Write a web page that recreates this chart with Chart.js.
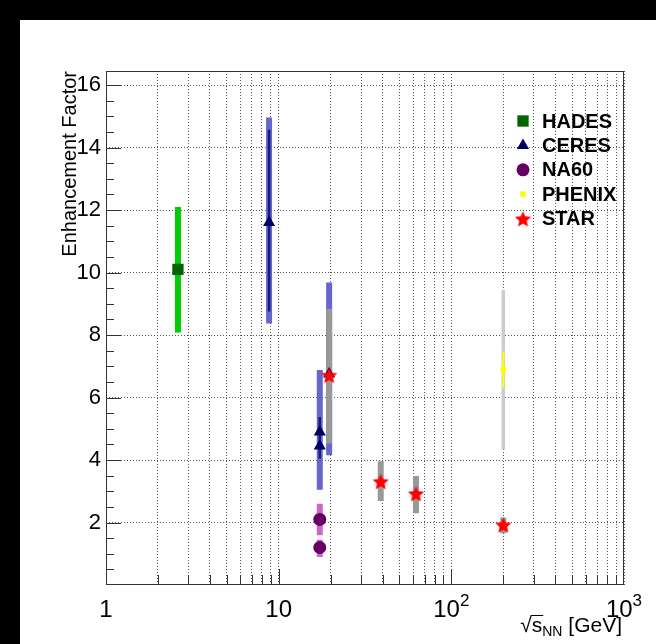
<!DOCTYPE html>
<html>
<head>
<meta charset="utf-8">
<script src="https://cdn.jsdelivr.net/npm/chart.js@4.4.1/dist/chart.umd.min.js"></script>
<style>
  html, body { margin: 0; padding: 0; background: #000; overflow: hidden; }
  #c { display: block; }
</style>
</head>
<body>
<canvas id="c" width="656" height="644"></canvas>
<script>
// values
const hadesX = [2.61];
const hadesY = [10.1];
const hadesLo = [8.08];
const hadesHi = [12.1];

const ceresX = [8.8, 17.3, 17.3, 19.6];
const ceresY = [11.6, 4.9, 4.45, 6.75];
const ceresSysLo = [8.37, 3.05, 3.05, 4.15];
const ceresSysHi = [14.96, 6.88, 6.88, 9.68];
const ceresStatLo = [8.75, 4.45, 4.05, null];
const ceresStatHi = [14.57, 5.38, 4.85, null];

const na60X = [17.3, 17.3];
const na60Y = [2.1, 1.2];
const na60Lo = [1.59, 0.9];
const na60Hi = [2.6, 1.45];

const phenixX = [200];
const phenixY = [6.9];
const phenixStatLo = [6.31];
const phenixStatHi = [7.47];
const phenixSysLo = [4.34];
const phenixSysHi = [9.44];

const starX = [19.6, 39, 62.4, 200];
const starY = [6.72, 3.32, 2.93, 1.93];
const starLo = [4.53, 2.69, 2.30, 1.66];
const starHi = [8.83, 3.96, 3.49, 2.16];

const xTicks = [1, 10, 100, 1000];
const xTickBase = ['1', '10', '10', '10'];
const xTickExp = ['', '', '2', '3'];
const yTicks = [2, 4, 6, 8, 10, 12, 14, 16];
const legendNames = ['HADES', 'CERES', 'NA60', 'PHENIX', 'STAR'];

const FONT = "'Liberation Sans', Arial, sans-serif";

// log grid: 1..9 in every decade
const xGrid = [];
xTicks.slice(0, -1).forEach(d => { for (let m = 1; m < 10; m++) xGrid.push(d * m); });
xGrid.push(xTicks[xTicks.length - 1]);

function bars(xs, lo, hi) {
  const out = [];
  xs.forEach((x, i) => {
    if (lo[i] == null) return;
    out.push({ x, y: lo[i] }, { x, y: hi[i] }, { x, y: null });
  });
  return out;
}
function pts(xs, ys) { return xs.map((x, i) => ({ x, y: ys[i] })); }

function starImage(size, color) {
  const c = document.createElement('canvas');
  c.width = c.height = size;
  const g = c.getContext('2d');
  const r = size / 2, ri = r * 0.47;
  g.beginPath();
  for (let i = 0; i < 10; i++) {
    const a = -Math.PI / 2 + i * Math.PI / 5;
    const rr = i % 2 ? ri : r;
    g.lineTo(r + rr * Math.cos(a), r + 1 + rr * Math.sin(a));
  }
  g.closePath();
  g.fillStyle = color;
  g.fill();
  return c;
}
const starImg = starImage(17, '#ff0000');

function barSet(data, color, width, order) {
  return { data, showLine: true, borderColor: color, borderWidth: width, borderCapStyle: 'butt',
    pointRadius: 0, pointHitRadius: 0, spanGaps: false, order };
}

const markers = [
  { pointStyle: 'rect', radius: 8, color: '#006400' },
  { pointStyle: 'triangle', radius: 7, color: '#000066' },
  { pointStyle: 'circle', radius: 6.5, color: '#660066' },
  { pointStyle: 'rect', radius: 4, color: '#ffff00' },
  { pointStyle: starImg, radius: 8, color: '#ff0000' }
];

function markerSet(data, m, order) {
  return { data, pointStyle: m.pointStyle, pointRadius: m.radius, backgroundColor: m.color,
    borderColor: m.color, borderWidth: 0, showLine: false, order };
}

const frame = {
  id: 'frame',
  beforeDraw(chart) {
    const ctx = chart.ctx;
    ctx.save();
    ctx.fillStyle = '#fff';
    ctx.fillRect(0, 0, chart.width, chart.height);
    ctx.fillStyle = '#000';
    ctx.fillRect(0, 0, chart.width, 20);
    ctx.fillRect(0, 0, 20, chart.height);
    ctx.restore();
  },
  afterDraw(chart) {
    const ctx = chart.ctx, ca = chart.chartArea;
    const xs = chart.scales.x, ys = chart.scales.y;
    ctx.save();
    ctx.strokeStyle = '#333';
    ctx.lineWidth = 1;
    ctx.beginPath();
    // inner tick marks
    for (let v = 0.5; v < ys.max; v += 0.5) {
      const p = Math.round(ys.getPixelForValue(v)) + 0.5;
      const len = v % 2 === 0 ? 15 : 8;
      ctx.moveTo(ca.left, p); ctx.lineTo(ca.left + len, p);
    }
    xGrid.forEach(v => {
      if (v === xs.min || v === xs.max) return;
      const p = Math.round(xs.getPixelForValue(v)) + 0.5;
      const len = xTicks.includes(v) ? 16 : 10;
      ctx.moveTo(p, ca.bottom); ctx.lineTo(p, ca.bottom - len);
    });
    ctx.stroke();
    ctx.strokeRect(Math.round(ca.left) + 0.5, Math.round(ca.top) + 0.5,
      Math.round(ca.right - ca.left) - 1, Math.round(ca.bottom - ca.top) - 1);

    // x tick labels with exponents
    ctx.fillStyle = '#000';
    ctx.textBaseline = 'alphabetic';
    ctx.textAlign = 'left';
    xTicks.forEach((v, i) => {
      const p = xs.getPixelForValue(v);
      ctx.font = '24px ' + FONT;
      const wb = ctx.measureText(xTickBase[i]).width;
      ctx.font = '17px ' + FONT;
      const we = xTickExp[i] ? ctx.measureText(xTickExp[i]).width : 0;
      const x0 = p - (wb + we) / 2;
      ctx.font = '24px ' + FONT;
      ctx.fillText(xTickBase[i], x0, 617);
      if (xTickExp[i]) {
        ctx.font = '17px ' + FONT;
        ctx.fillText(xTickExp[i], x0 + wb, 606);
      }
    });

    // x axis title: sqrt(s_NN) [GeV]
    const big = '21px ' + FONT, small = '14px ' + FONT;
    ctx.font = big;
    const wR = ctx.measureText('\u221A').width, wS = ctx.measureText('s').width, wG = ctx.measureText(' [GeV]').width;
    ctx.font = small;
    const wN = ctx.measureText('NN').width;
    let tx = 622 - (wR + wS + wN + wG);
    const by = 632;
    ctx.font = big;
    ctx.fillText('\u221A', tx, by);
    ctx.beginPath();
    ctx.moveTo(tx + wR - 1, by - 16.5); ctx.lineTo(tx + wR + wS + 1, by - 16.5);
    ctx.strokeStyle = '#000';
    ctx.stroke();
    tx += wR;
    ctx.fillText('s', tx, by);
    tx += wS;
    ctx.font = small;
    ctx.fillText('NN', tx, by + 4);
    tx += wN;
    ctx.font = big;
    ctx.fillText(' [GeV]', tx, by);

    // legend
    const helpers = Chart.helpers;
    ctx.font = 'bold 20px ' + FONT;
    ctx.textBaseline = 'middle';
    legendNames.forEach((name, i) => {
      const y = 121 + i * 24.4;
      const m = markers[i];
      ctx.fillStyle = m.color;
      ctx.strokeStyle = m.color;
      helpers.drawPoint(ctx, { pointStyle: m.pointStyle, radius: m.radius, rotation: 0, borderWidth: 0 }, 523, y);
      ctx.fillStyle = '#000';
      ctx.fillText(name, 542, y + 1);
    });
    ctx.restore();
  }
};

const gridOpts = { color: '#555', lineWidth: 1, drawTicks: false };

new Chart(document.getElementById('c').getContext('2d'), {
  type: 'scatter',
  data: {
    datasets: [
      barSet(bars(ceresX, ceresSysLo, ceresSysHi), '#6666cc', 6, 20),
      barSet(bars(na60X, na60Lo, na60Hi), '#cc66cc', 6, 20),
      barSet(bars(hadesX, hadesLo, hadesHi), '#00cc00', 6, 20),
      barSet(bars(phenixX, phenixSysLo, phenixSysHi), '#cccccc', 3.5, 20),
      barSet(bars(starX, starLo, starHi), '#999999', 6, 19),
      barSet(bars(ceresX, ceresStatLo, ceresStatHi), '#1a1a80', 2.5, 18),
      barSet(bars(phenixX, phenixStatLo, phenixStatHi), '#ffff00', 2, 18),
      markerSet(pts(hadesX, hadesY), markers[0], 5),
      markerSet(pts(ceresX, ceresY), markers[1], 5),
      markerSet(pts(na60X, na60Y), markers[2], 5),
      markerSet(pts(phenixX, phenixY), markers[3], 5),
      markerSet(pts(starX, starY), markers[4], 1)
    ]
  },
  options: {
    responsive: false,
    animation: false,
    events: [],
    layout: { padding: { left: 58, top: 71, right: 32, bottom: 0 } },
    plugins: { legend: { display: false }, tooltip: { enabled: false } },
    scales: {
      x: {
        type: 'logarithmic',
        min: 1,
        max: 1000,
        afterBuildTicks: s => { s.ticks = xGrid.map(v => ({ value: v })); },
        afterFit: s => { s.height = 59; },
        ticks: { display: false },
        grid: gridOpts,
        border: { display: false, dash: [1, 2] }
      },
      y: {
        type: 'linear',
        min: 0,
        max: 16.45,
        afterBuildTicks: s => { s.ticks = yTicks.map(v => ({ value: v })); },
        afterFit: s => { s.width = 48; },
        ticks: { color: '#000', padding: 5, font: { family: FONT, size: 22 } },
        grid: gridOpts,
        border: { display: false, dash: [1, 2] },
        title: { display: true, text: 'Enhancement Factor', align: 'end', color: '#000',
          padding: 0, font: { family: FONT, size: 20 } }
      }
    }
  },
  plugins: [frame]
});
</script>
</body>
</html>
